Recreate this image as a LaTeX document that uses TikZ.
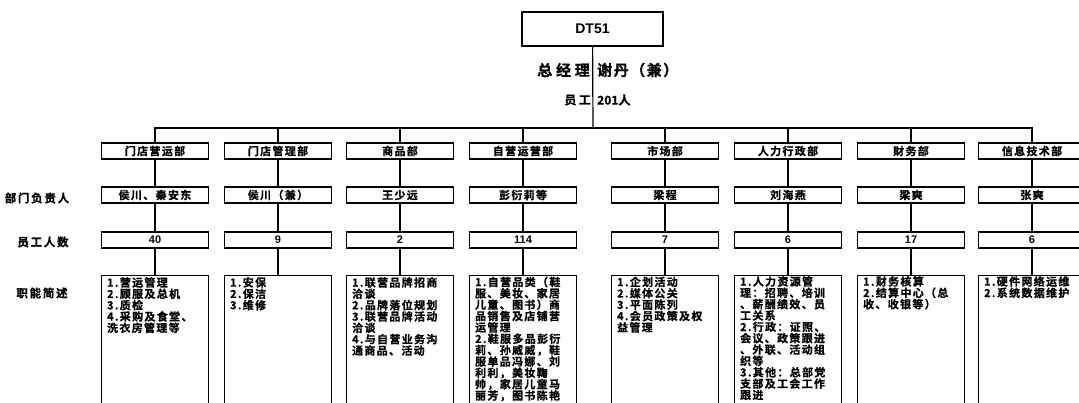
\documentclass[tikz,border=0pt]{standalone}
\usepackage{fontspec}
\setmainfont{Noto Sans CJK SC}[BoldFont={Noto Sans CJK SC Bold},BoldFeatures={FakeBold=0.8}]
\newfontfamily\latinb{Liberation Sans}[BoldFont={Liberation Sans Bold}]
\begin{document}
\begin{tikzpicture}[x=1pt,y=-1pt,
  ln/.style={line width=1.2pt},
  cjkfont/.style 2 args={font=\fontsize{#1}{#1}\selectfont\bfseries\addfontfeature{LetterSpace=#2}},
  hbox/.style={draw, line width=1.2pt, minimum width=107pt, minimum height=16pt, inner sep=0pt, cjkfont={11}{12}},
  nbox/.style={draw, line width=1.2pt, minimum width=107pt, minimum height=16pt, inner sep=0pt, font=\latinb\fontsize{11}{12}\selectfont\bfseries},
  fbox/.style={draw, line width=1.2pt, minimum width=107pt, minimum height=220pt, anchor=north, inner sep=0pt},
  ftext/.style={anchor=north west, align=left, inner sep=0pt, font=\fontsize{11}{11.35}\selectfont\bfseries\addfontfeature{LetterSpace=12}},
  lab/.style={cjkfont={11.5}{15}, inner sep=0pt}
]
\useasboundingbox (0,0) rectangle (1079,403);
\clip (0,0) rectangle (1079,403);

% top
\node[draw, line width=1.2pt, minimum width=141pt, minimum height=34pt, inner sep=0pt,
  font=\latinb\fontsize{14}{16}\selectfont\bfseries] (top) at (592.5,29) {DT51};
\node[anchor=east, inner sep=0pt, cjkfont={15}{25}] (gm) at (590,70) {总经理};
\node[anchor=west, inner sep=0pt, cjkfont={15}{10}] (gmn) at (597,70) {谢丹（兼）};
\node[anchor=east, inner sep=0pt, cjkfont={12}{20}] (st) at (591,100) {员工};
\node[anchor=west, inner sep=0pt, font=\fontsize{12}{12}\selectfont\bfseries] (stn) at (597,100) {201人};
\coordinate (bus) at (593,128);

% row labels
\node[lab] (l2) at (37,198) {部门负责人};
\node[lab] (l3) at (43,242) {员工人数};
\node[lab] (l4) at (42,293) {职能简述};

% columns
\foreach \i/\x/\h/\m/\n in {
  1/155/门店营运部/侯川、秦安东/40,
  2/278/门店管理部/侯川（兼）/9,
  3/400/商品部/王少远/2,
  4/523/自营运营部/彭衍莉等/114,
  5/665/市场部/梁程/7,
  6/788/人力行政部/刘海燕/6,
  7/911/财务部/梁爽/17,
  8/1032/信息技术部/张爽/6}{
  \node[hbox] (h\i) at (\x,151) {\h};
  \node[hbox] (m\i) at (\x,195) {\m};
  \node[nbox] (n\i) at (\x,240) {\n};
  \node[fbox] (f\i) at (\x,275) {};
  \draw[ln] (h\i) -- (m\i);
  \draw[ln] (m\i) -- (n\i);
  \draw[ln] (n\i) -- (f\i);
}

% bus connectors
\draw[ln] (top) -- (bus);
\draw[ln] (h1.north) |- (bus);
\draw[ln] (h8.north) |- (bus);
\foreach \i in {2,...,7}{ \draw[ln] (h\i.north) -- (h\i.north |- bus); }

% function texts
\node[ftext] (t1) at ([shift={(6,2)}]f1.north west) {1.营运管理\\2.顾服及总机\\3.质检\\4.采购及食堂、\\洗衣房管理等};
\node[ftext] (t2) at ([shift={(6,2)}]f2.north west) {1.安保\\2.保洁\\3.维修};
\node[ftext] (t3) at ([shift={(6,2)}]f3.north west) {1.联营品牌招商\\洽谈\\2.品牌落位规划\\3.联营品牌活动\\洽谈\\4.与自营业务沟\\通商品、活动};
\node[ftext] (t4) at ([shift={(6,1.5)}]f4.north west) {1.自营品类（鞋\\服、美妆、家居\\儿童、图书）商\\品销售及店铺营\\运管理\\2.鞋服多品彭衍\\莉、孙威威，鞋\\服单品冯娜、刘\\利利，美妆鞠\\帅，家居儿童马\\丽芳，图书陈艳};
\node[ftext] (t5) at ([shift={(6,1.5)}]f5.north west) {1.企划活动\\2.媒体公关\\3.平面陈列\\4.会员政策及权\\益管理};
\node[ftext] (t6) at ([shift={(6,1)}]f6.north west) {1.人力资源管\\理：招聘、培训\\、薪酬绩效、员\\工关系\\2.行政：证照、\\会议、政策跟进\\、外联、活动组\\织等\\3.其他：总部党\\支部及工会工作\\跟进};
\node[ftext] (t7) at ([shift={(6,1)}]f7.north west) {1.财务核算\\2.结算中心（总\\收、收银等）};
\node[ftext] (t8) at ([shift={(6,1)}]f8.north west) {1.硬件网络运维\\2.系统数据维护};
\end{tikzpicture}
\end{document}
